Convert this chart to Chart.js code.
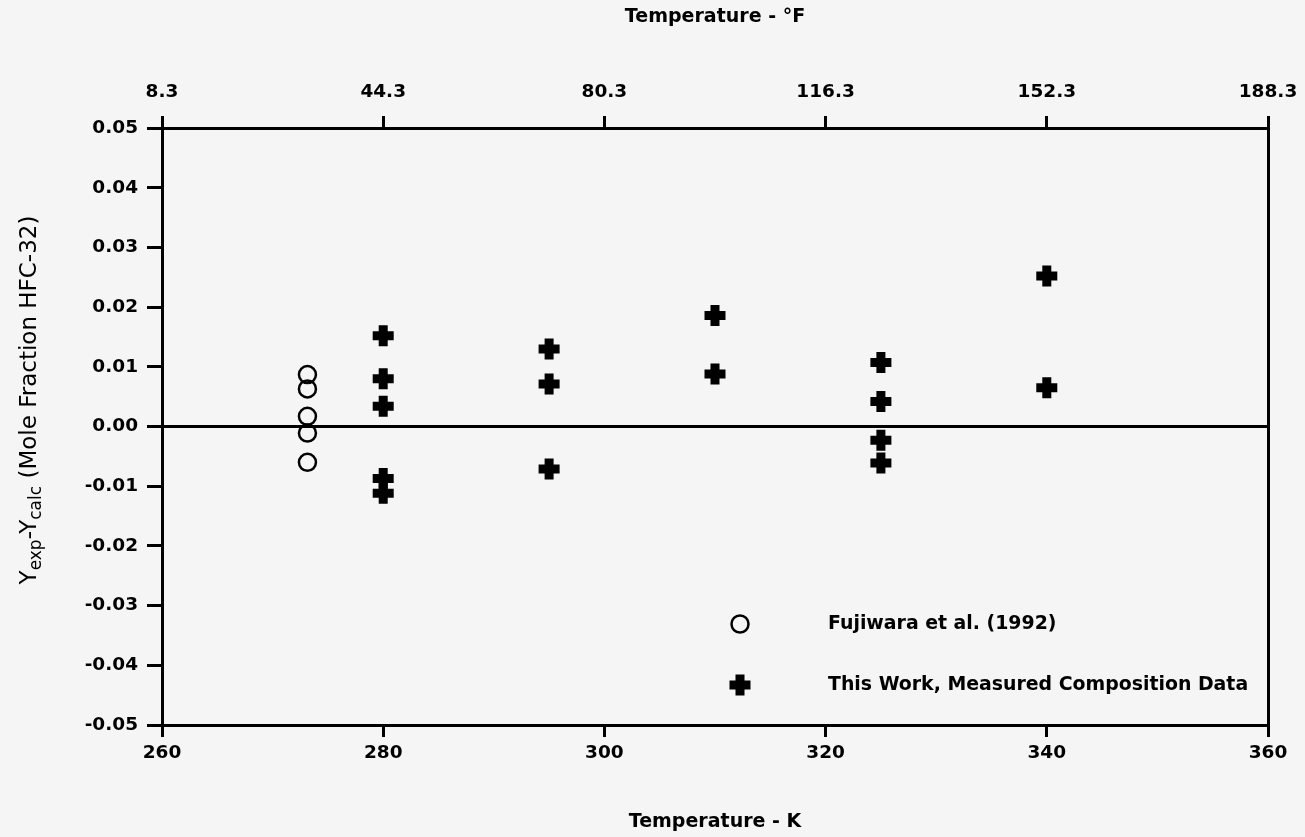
<!DOCTYPE html>
<html>
<head>
<meta charset="utf-8">
<script src="https://cdn.jsdelivr.net/npm/chart.js@4.4.0/dist/chart.umd.min.js"></script>
<style>
    body { margin: 0; background: #f5f5f5; }
    #wrap { width: 1305px; height: 837px; position: relative; }
</style>
</head>
<body>
<div id="wrap"><canvas id="myChart"></canvas></div>
<script>
// temperatures in K, deviations in mole fraction HFC-32
const fujiwaraTemps = [273.15, 273.15, 273.15, 273.15, 273.15];
const fujiwaraDevs = [0.0087, 0.0063, 0.0017, -0.0011, -0.0060];

const thisWorkTemps = [280, 280, 280, 280, 280, 295, 295, 295, 310, 310, 325, 325, 325, 325, 340, 340];
const thisWorkDevs = [0.0152, 0.0080, 0.0034, -0.0087, -0.0112,
                      0.0130, 0.0071, -0.0071,
                      0.0186, 0.0088,
                      0.0107, 0.0042, -0.0023, -0.0061,
                      0.0252, 0.0065];

const seriesLabels = ['Fujiwara et al. (1992)', 'This Work, Measured Composition Data'];
const kelvinTicks = ['260', '280', '300', '320', '340', '360'];
const fahrenheitTicks = ['8.3', '44.3', '80.3', '116.3', '152.3', '188.3'];

const tickFont = { family: 'DejaVu Sans', size: 18.5, weight: 'bold' };
const titleFont = { family: 'DejaVu Sans', size: 19, weight: 'bold' };

function toPoints(xs, ys) {
    return xs.map((x, i) => ({ x: x, y: ys[i] }));
}

const bgPlugin = {
    id: 'bg',
    beforeDraw(chart) {
        const ctx = chart.ctx;
        ctx.save();
        ctx.fillStyle = '#f5f5f5';
        ctx.fillRect(0, 0, chart.width, chart.height);
        ctx.restore();
    }
};

// rotated y title with subscripts
const yTitlePlugin = {
    id: 'yTitle',
    afterDraw(chart) {
        const ctx = chart.ctx;
        const parts = [
            ['Y', false], ['exp', true], ['-Y', false], ['calc', true], [' (Mole Fraction HFC-32)', false]
        ];
        const mainFont = '23px "DejaVu Sans"';
        const subFont = '17px "DejaVu Sans"';
        ctx.save();
        let total = 0;
        parts.forEach(p => {
            ctx.font = p[1] ? subFont : mainFont;
            total += ctx.measureText(p[0]).width;
        });
        ctx.translate(27, 400);
        ctx.rotate(-Math.PI / 2);
        ctx.fillStyle = '#000';
        ctx.textBaseline = 'alphabetic';
        ctx.textAlign = 'left';
        let x = -total / 2;
        parts.forEach(p => {
            ctx.font = p[1] ? subFont : mainFont;
            ctx.fillText(p[0], x, p[1] ? 14 : 8.5);
            x += ctx.measureText(p[0]).width;
        });
        ctx.restore();
    }
};

const legendPlugin = {
    id: 'boxLegend',
    afterDraw(chart) {
        const ctx = chart.ctx;
        const area = chart.chartArea;
        const mx = area.left + 578;
        const tx = area.left + 666;
        const rows = [area.bottom - 101, area.bottom - 40];
        ctx.save();
        ctx.strokeStyle = '#000';
        ctx.fillStyle = '#000';
        // circle
        ctx.lineWidth = 2.5;
        ctx.beginPath();
        ctx.arc(mx, rows[0], 8.5, 0, Math.PI * 2);
        ctx.stroke();
        // cross
        ctx.lineWidth = 9;
        ctx.beginPath();
        ctx.moveTo(mx - 10.5, rows[1]);
        ctx.lineTo(mx + 10.5, rows[1]);
        ctx.moveTo(mx, rows[1] - 10.5);
        ctx.lineTo(mx, rows[1] + 10.5);
        ctx.stroke();
        ctx.font = 'bold 18.9px "DejaVu Sans"';
        ctx.textBaseline = 'middle';
        ctx.textAlign = 'left';
        ctx.fillText(seriesLabels[0], tx, rows[0]);
        ctx.fillText(seriesLabels[1], tx, rows[1]);
        ctx.restore();
    }
};

function renderChart() {
    const ctx = document.getElementById('myChart');

    new Chart(ctx, {
        type: 'scatter',
        data: {
            datasets: [{
                label: seriesLabels[0],
                data: toPoints(fujiwaraTemps, fujiwaraDevs),
                pointStyle: 'circle',
                pointRadius: 8.5,
                borderWidth: 2.5,
                borderColor: '#000',
                backgroundColor: 'rgba(0,0,0,0)',
                xAxisID: 'x',
                yAxisID: 'y'
            },
            {
                label: seriesLabels[1],
                data: toPoints(thisWorkTemps, thisWorkDevs),
                pointStyle: 'cross',
                pointRadius: 10.5,
                borderWidth: 9,
                borderColor: '#000',
                backgroundColor: '#000',
                xAxisID: 'x',
                yAxisID: 'y'
            }]
        },
        options: {
            responsive: true,
            maintainAspectRatio: false,
            animation: false,
            layout: { padding: 0 },
            plugins: {
                legend: { display: false },
                tooltip: { enabled: false }
            },
            scales: {
                x: {
                    type: 'linear',
                    position: 'bottom',
                    min: 260,
                    max: 360,
                    afterFit: s => { s.height = 112; s.paddingLeft = 0; s.paddingRight = 0; },
                    ticks: {
                        stepSize: 20,
                        padding: 5,
                        maxRotation: 0,
                        color: '#000',
                        font: tickFont,
                        callback: (v, i) => kelvinTicks[i]
                    },
                    grid: { drawOnChartArea: false, color: '#000', lineWidth: 3, tickLength: 12 },
                    border: { color: '#000', width: 3 },
                    title: { display: true, text: 'Temperature - K', color: '#000', font: titleFont, padding: { top: 0, bottom: 4 } }
                },
                x2: {
                    type: 'linear',
                    position: 'top',
                    min: 260,
                    max: 360,
                    afterFit: s => { s.height = 128; s.paddingLeft = 0; s.paddingRight = 0; },
                    ticks: {
                        stepSize: 20,
                        padding: 13,
                        maxRotation: 0,
                        color: '#000',
                        font: tickFont,
                        callback: (v, i) => fahrenheitTicks[i]
                    },
                    grid: { drawOnChartArea: false, color: '#000', lineWidth: 3, tickLength: 12 },
                    border: { color: '#000', width: 3 },
                    title: { display: true, text: 'Temperature - °F', color: '#000', font: titleFont, padding: { top: 6, bottom: 0 } }
                },
                y: {
                    type: 'linear',
                    position: 'left',
                    min: -0.05,
                    max: 0.05,
                    afterFit: s => { s.width = 162; },
                    ticks: {
                        stepSize: 0.01,
                        padding: 9,
                        color: '#000',
                        font: tickFont,
                        callback: v => (Math.abs(v) < 1e-9 ? 0 : v).toFixed(2)
                    },
                    grid: {
                        color: c => (c.tick && Math.abs(c.tick.value) < 1e-9) ? '#000' : 'rgba(0,0,0,0)',
                        tickColor: '#000',
                        lineWidth: 3,
                        tickLength: 15
                    },
                    border: { color: '#000', width: 3 }
                },
                y2: {
                    type: 'linear',
                    position: 'right',
                    min: -0.05,
                    max: 0.05,
                    afterFit: s => { s.width = 37; },
                    ticks: { display: false },
                    grid: { display: false },
                    border: { color: '#000', width: 3 }
                }
            }
        },
        plugins: [bgPlugin, yTitlePlugin, legendPlugin]
    });
}

renderChart();
</script>
</body>
</html>
